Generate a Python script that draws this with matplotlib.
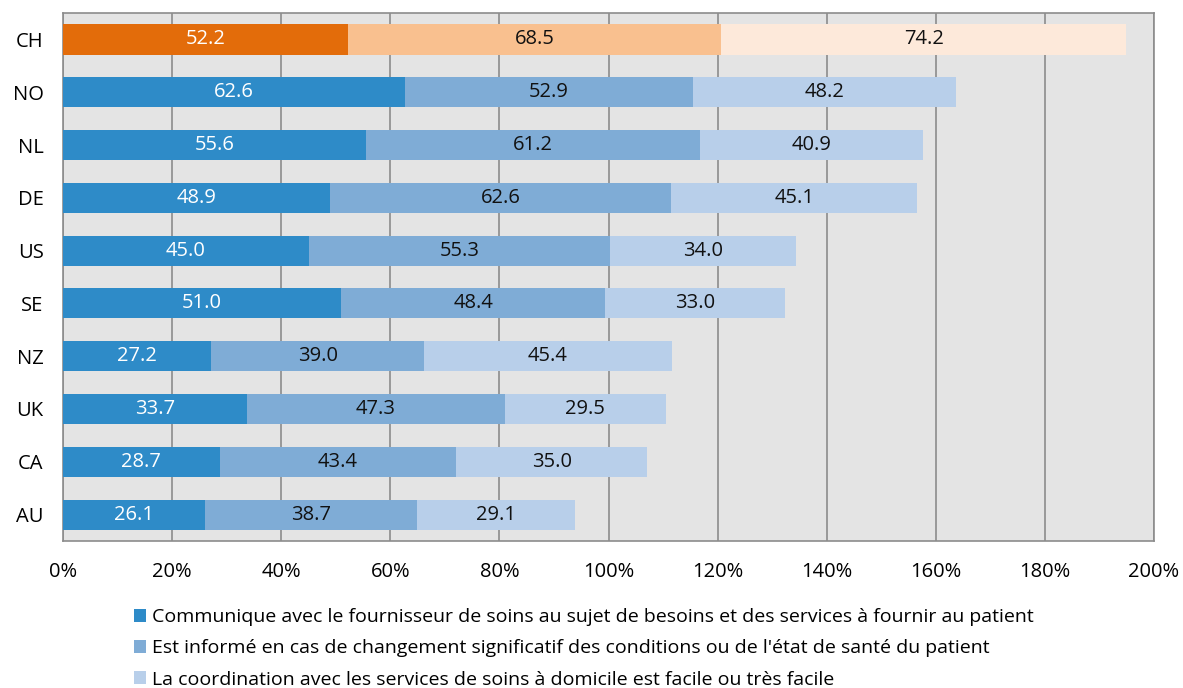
import matplotlib.pyplot as plt
from matplotlib.patches import Patch
import numpy as np

plt.rcParams['font.family'] = ['Open Sans', 'DejaVu Sans']

countries = ["CH", "NO", "NL", "DE", "US", "SE", "NZ", "UK", "CA", "AU"]
communique = [52.2, 62.6, 55.6, 48.9, 45.0, 51.0, 27.2, 33.7, 28.7, 26.1]
informe = [68.5, 52.9, 61.2, 62.6, 55.3, 48.4, 39.0, 47.3, 43.4, 38.7]
coordination = [74.2, 48.2, 40.9, 45.1, 34.0, 33.0, 45.4, 29.5, 35.0, 29.1]
legend_labels = [
    "Communique avec le fournisseur de soins au sujet de besoins et des services à fournir au patient",
    "Est informé en cas de changement significatif des conditions ou de l'état de santé du patient",
    "La coordination avec les services de soins à domicile est facile ou très facile",
]

blues = ["#2E8BC8", "#7FACD6", "#B8CFEA"]
oranges = ["#E36C0A", "#F9C08F", "#FDE9DA"]
txt_cols = ["white", "#111111", "#111111"]

fig = plt.figure(figsize=(11.83, 6.88), dpi=100)
ax = fig.add_axes([0.0533, 0.2137, 0.9222, 0.7673])
ax.set_facecolor("#E4E4E4")

y = np.arange(len(countries))
series = [communique, informe, coordination]
left = np.zeros(len(countries))
for k, vals in enumerate(series):
    vals = np.array(vals)
    cols = [oranges[k] if c == "CH" else blues[k] for c in countries]
    ax.barh(y, vals, left=left, height=0.57, color=cols, zorder=3)
    for i, v in enumerate(vals):
        ax.text(left[i] + v / 2, y[i], f"{v:.1f}", ha="center", va="center",
                color=txt_cols[k], fontsize=14.5, zorder=4)
    left += vals

ax.set_xlim(0, 200)
ax.set_ylim(len(countries) - 0.5, -0.5)
ax.set_yticks(y)
ax.set_yticklabels(countries, fontsize=14.5)
ax.set_xticks(np.arange(0, 201, 20))
ax.set_xticklabels([f"{t}%" for t in range(0, 201, 20)], fontsize=14.5)
ax.tick_params(axis="y", length=0, pad=14)
ax.tick_params(axis="x", length=0, pad=15)
ax.grid(axis="x", color="#8C8C8C", linewidth=1.2, zorder=1)
for s in ax.spines.values():
    s.set_color("#8C8C8C")
    s.set_linewidth(1.2)

handles = [Patch(facecolor=c) for c in blues]
fig.legend(handles, legend_labels, loc="upper left", bbox_to_anchor=(0.113, 0.116),
           frameon=False, fontsize=14, handlelength=0.65, handleheight=0.65,
           handletextpad=0.3, labelspacing=0.68, borderaxespad=0, borderpad=0)

fig.savefig("out.png", dpi=100)
